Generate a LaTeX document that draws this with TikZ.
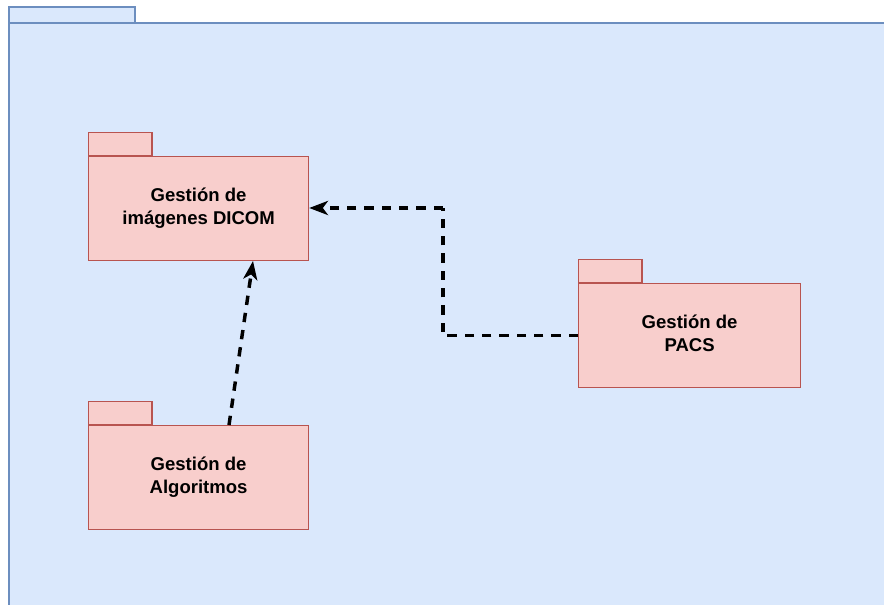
\documentclass[tikz,border=0pt]{standalone}
\usepackage{fontspec}
\setmainfont{Liberation Sans}
\usetikzlibrary{arrows.meta}
\definecolor{outerfill}{HTML}{DAE8FC}
\definecolor{outerline}{HTML}{6C8EBF}
\definecolor{pkgfill}{HTML}{F8CECC}
\definecolor{pkgline}{HTML}{B85450}
\tikzset{
  pkgbody/.style={draw=pkgline, fill=pkgfill, line width=0.9pt, minimum width=165pt, minimum height=78pt,
    anchor=north west, inner sep=0pt, align=center,
    font=\fontsize{13.9}{17.3}\selectfont\bfseries},
  pkgtab/.style={draw=pkgline, fill=pkgfill, line width=0.9pt, minimum width=47.5pt, minimum height=17pt,
    anchor=south west, inner sep=0pt},
  dashline/.style={line width=2.6pt, dash pattern=on 7pt off 6pt, line join=miter},
  depend/.style={dashline, -{Stealth[length=14pt, width=10.5pt, inset=3.8pt]}}
}
\begin{document}
\begin{tikzpicture}[x=0.75pt, y=-0.75pt]
\useasboundingbox (0,0) rectangle (884,605);
\clip (0,0) rectangle (884,605);
% outer package
\draw[draw=outerline, fill=outerfill, line width=1.5pt] (8.5,7.5) rectangle (135,23);
\draw[draw=outerline, fill=outerfill, line width=1.5pt] (8.5,23) rectangle (900,620);
% inner packages
\node[pkgbody] (dicom) at (88,156) {Gestión de\\imágenes DICOM\\[-13.5pt]};
\node[pkgtab] (dicomtab) at (dicom.north west) {};
\node[pkgbody] (algo) at (88,425) {Gestión de\\Algoritmos\\[-13.5pt]};
\node[pkgtab] (algotab) at (algo.north west) {};
\node[pkgbody, minimum width=166.5pt] (pacs) at (578,283) {Gestión de\\PACS\\[-13.5pt]};
\node[pkgtab] (pacstab) at (pacs.north west) {};
% dependencies
\coordinate (d1) at (229,425);
\coordinate (d2) at (253,261);
\draw[depend] (d1) -- (d2);
\coordinate (bend) at (443,208);
\draw[dashline] (pacs.west) -| (bend);
\draw[depend] (bend) -- (dicom.east |- bend);
\end{tikzpicture}
\end{document}
